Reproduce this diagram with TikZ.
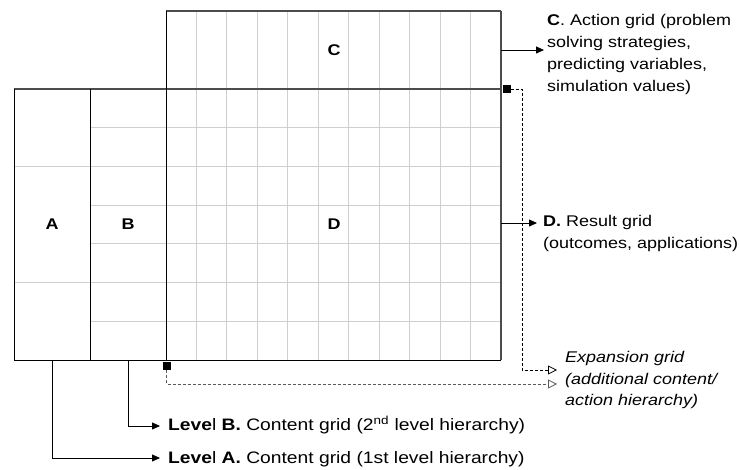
\documentclass[tikz,border=0pt]{standalone}
\usepackage{fontspec}
\setmainfont[FakeStretch=1.16]{Liberation Sans}
\usetikzlibrary{arrows.meta}
\begin{document}
\begin{tikzpicture}[x=1pt,y=-1pt,
  gridline/.style={draw=gray!38, line width=0.9pt},
  edgeline/.style={draw=black, line width=0.9pt},
  heavyline/.style={draw=gray!60!black, line width=1.6pt},
  topline/.style={draw=gray!60!black, line width=1.1pt},
  letter/.style={font=\fontsize{15.5}{18}\selectfont\bfseries, inner sep=0pt},
  lab/.style={font=\fontsize{15.5}{21.7}\selectfont, align=left, inner sep=0pt, anchor=base west},
  arr/.style={draw=black, line width=0.8pt, -{Triangle[length=8pt,width=7pt]}},
  exparr/.style={line width=0.8pt, dash pattern=on 3pt off 2pt, -{Triangle[open,length=9pt,width=9pt,line width=0.8pt]}},
  marker/.style={fill=black, minimum size=8pt, inner sep=0pt, outer sep=0pt}
]
\useasboundingbox (0,0) rectangle (740,470);

% corners
\coordinate (aTL) at (14,89);
\coordinate (aBL) at (14,360);
\coordinate (abT) at (90,89);
\coordinate (abB) at (90,360);
\coordinate (cTL) at (166,11);
\coordinate (bdB) at (166,360);
\coordinate (cTR) at (501,11);
\coordinate (dTR) at (501,89);
\coordinate (dBR) at (501,360);

% interior grid
\foreach \i in {1,...,10}
  \draw[gridline] (166+\i*30.4545,11) -- (166+\i*30.4545,360);
\foreach \j in {1,...,6}
  \draw[gridline] (90,89+\j*38.714) -- (501,89+\j*38.714);
\foreach \j in {2,5}
  \draw[gridline] (14,89+\j*38.714) -- (90,89+\j*38.714);

% outer lines
\draw[topline] (cTL) -- (cTR);
\draw[heavyline] (cTR) -- (dBR);
\draw[heavyline] (aTL) -- (dTR);
\draw[edgeline] (aTL) -- (aBL) -- (dBR);
\draw[edgeline] (abT) -- (abB);
\draw[edgeline] (cTL) -- (bdB);

% letters
\node[letter] (A) at (52,224) {A};
\node[letter] (B) at (128,224) {B};
\node[letter] (C) at (334,50) {C};
\node[letter] (D) at (334,224) {D};

% labels (base anchor = baseline of last line)
\node[lab] (labC) at (547,91.1) {\textbf{C}. Action grid (problem\\solving strategies,\\predicting variables,\\simulation values)};
\node[lab] (labD) at (543,248.7) {\textbf{D.} Result grid\\(outcomes, applications)};
\node[lab, font=\fontsize{15.5}{21.7}\selectfont\itshape] (labE) at (565,406) {Expansion grid\\(additional content/\\action hierarchy)};
\node[lab, font=\fontsize{16.6}{18}\selectfont] (labB) at (168,431) {\textbf{Leve}l \textbf{B.} Content grid (2\textsuperscript{nd} level hierarchy)};
\node[lab, font=\fontsize{16.6}{18}\selectfont] (labA) at (168,464) {\textbf{Leve}l \textbf{A.} Content grid (1st level hierarchy)};

% markers
\node[marker] (m1) at (506.5,89.5) {};
\node[marker] (m2) at (166.5,366) {};

% solid arrows
\coordinate (sC) at (501,50);
\coordinate (tC) at (544,50);
\coordinate (sD) at (501,223);
\coordinate (tD) at (537,223);
\coordinate (sB) at (128,360);
\coordinate (tB) at (160,426);
\coordinate (sA) at (52,360);
\coordinate (tA) at (160,458);
\draw[arr] (sC) -- (tC);
\draw[arr] (sD) -- (tD);
\draw[arr] (sB) |- (tB);
\draw[arr] (sA) |- (tA);

% expansion arrows
\coordinate (j1) at (522,370);
\coordinate (e1) at (557,370);
\coordinate (e2) at (557,384);
\draw[exparr, draw=black] (m1.east) -| (j1) -- (e1);
\draw[exparr, draw=gray!70!black] (m2.south) |- (e2);
\end{tikzpicture}
\end{document}
